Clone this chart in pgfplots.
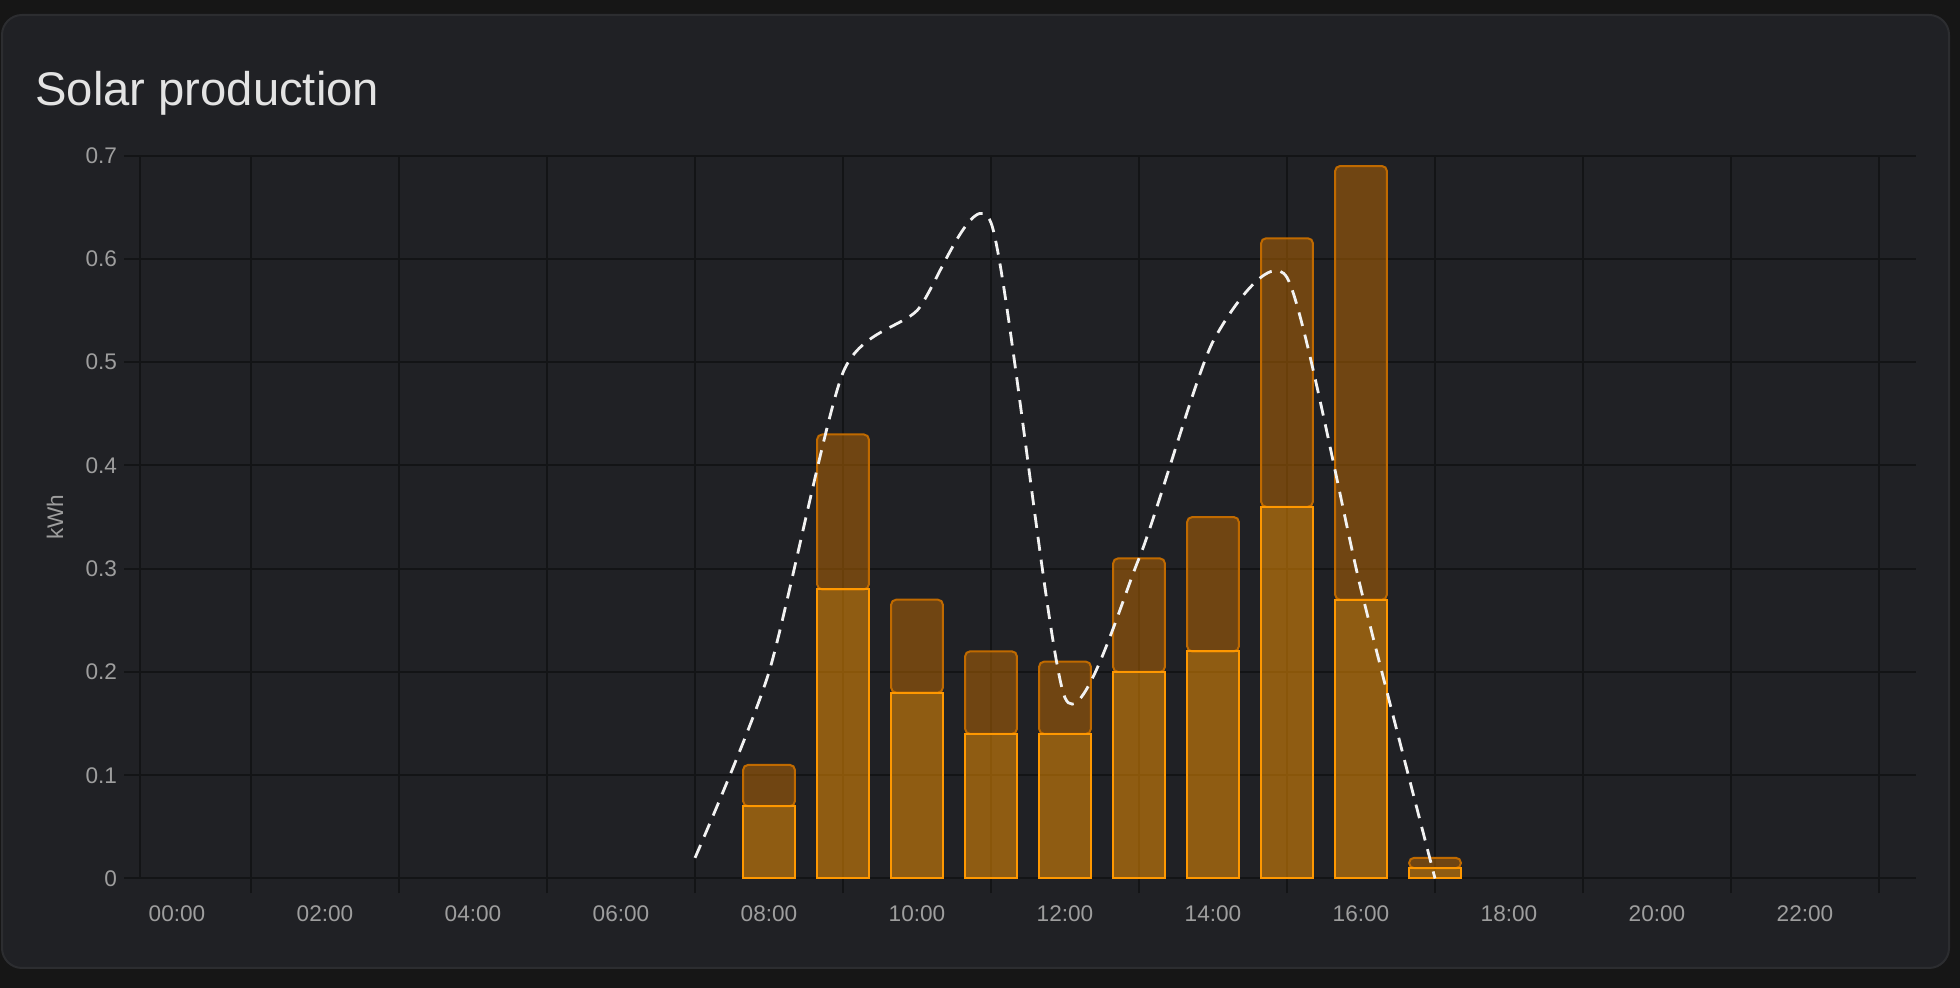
\documentclass[border=0pt]{standalone}
\usepackage{fontspec}
\setmainfont{Liberation Sans}
\usepackage{pgfplots}
\pgfplotsset{compat=1.18}
\definecolor{outerbg}{HTML}{161616}
\definecolor{cardbg}{HTML}{202125}
\definecolor{cardborder}{HTML}{2C2D30}
\definecolor{gridc}{HTML}{131416}
\definecolor{tickc}{HTML}{9E9E9E}
\definecolor{titlec}{HTML}{E3E3E3}
\definecolor{solarA}{HTML}{FF9800}
\definecolor{solarB}{HTML}{C06A00}
\definecolor{linec}{HTML}{F2F2F2}
\pgfplotsset{myaxis/.style={scale only axis, width=888pt, height=361.4pt,
  xmin=-0.5, xmax=23.5, ymin=0, ymax=0.7, at={(70pt,54.75pt)}, anchor=south west}}
\begin{document}
\begin{tikzpicture}[x=1pt,y=1pt]
\fill[outerbg] (0,0) rectangle (980,494);
\filldraw[fill=cardbg, draw=cardborder, line width=1pt, rounded corners=10pt] (1,10) rectangle (974.5,486.5);
\node[anchor=base west, text=titlec, font=\fontsize{23.6}{28}\selectfont, inner sep=0pt] at (17.5,441) {Solar production};
\begin{axis}[myaxis, ybar stacked, bar width=0.7,
  axis lines=left, axis line style={-, draw=gridc, line width=1pt},
  xtick={0,2,4,6,8,10,12,14,16,18,20,22},
  xticklabels={00:00,02:00,04:00,06:00,08:00,10:00,12:00,14:00,16:00,18:00,20:00,22:00},
  minor xtick={1,3,5,7,9,11,13,15,17,19,21,23},
  xminorgrids=true, ymajorgrids=true, xmajorgrids=false,
  grid style={draw=gridc, line width=1pt},
  minor grid style={draw=gridc, line width=1pt},
  tick align=outside, major tick length=8pt, minor tick length=7.5pt,
  tick style={draw=gridc, line width=1pt},
  major x tick style={draw=none},
  ytick={0,0.1,0.2,0.3,0.4,0.5,0.6,0.7},
  yticklabels={0,0.1,0.2,0.3,0.4,0.5,0.6,0.7},
  ticklabel style={text=tickc, font=\fontsize{11.3}{13}\selectfont},
  xticklabel style={yshift=-2pt},
  ylabel={kWh},
  ylabel style={at={(axis description cs:-0.0479,0.5)}, anchor=center, text=tickc, font=\fontsize{11.3}{13}\selectfont},
]
\addplot[fill=solarA, fill opacity=0.5, draw=solarA, line width=1pt] coordinates {
  (8,0.07) (9,0.28) (10,0.18) (11,0.14) (12,0.14) (13,0.20) (14,0.22) (15,0.36) (16,0.27) (17,0.01)};
\addplot[fill=solarB, fill opacity=0.5, draw=solarB, line width=1pt, rounded corners=2.5pt] coordinates {
  (8,0.04) (9,0.15) (10,0.09) (11,0.08) (12,0.07) (13,0.11) (14,0.13) (15,0.26) (16,0.42) (17,0.01)};
\end{axis}
\begin{axis}[myaxis, hide axis]
\addplot[ybar, bar width=0.7, bar shift=0pt, fill=none, draw=solarA, line width=1pt] coordinates {
  (8,0.07) (9,0.28) (10,0.18) (11,0.14) (12,0.14) (13,0.20) (14,0.22) (15,0.36) (16,0.27) (17,0.01)};
\addplot[smooth, tension=0.4, draw=linec, line width=1.4pt, dash pattern=on 7pt off 4.5pt] coordinates {
  (7,0.02) (8,0.2) (9,0.49) (10,0.55) (11,0.635) (12,0.175) (13,0.31) (14,0.52) (15,0.582) (16,0.28) (17,0)};
\end{axis}
\pgfresetboundingbox
\path[use as bounding box] (0,0) rectangle (980,494);
\end{tikzpicture}
\end{document}
